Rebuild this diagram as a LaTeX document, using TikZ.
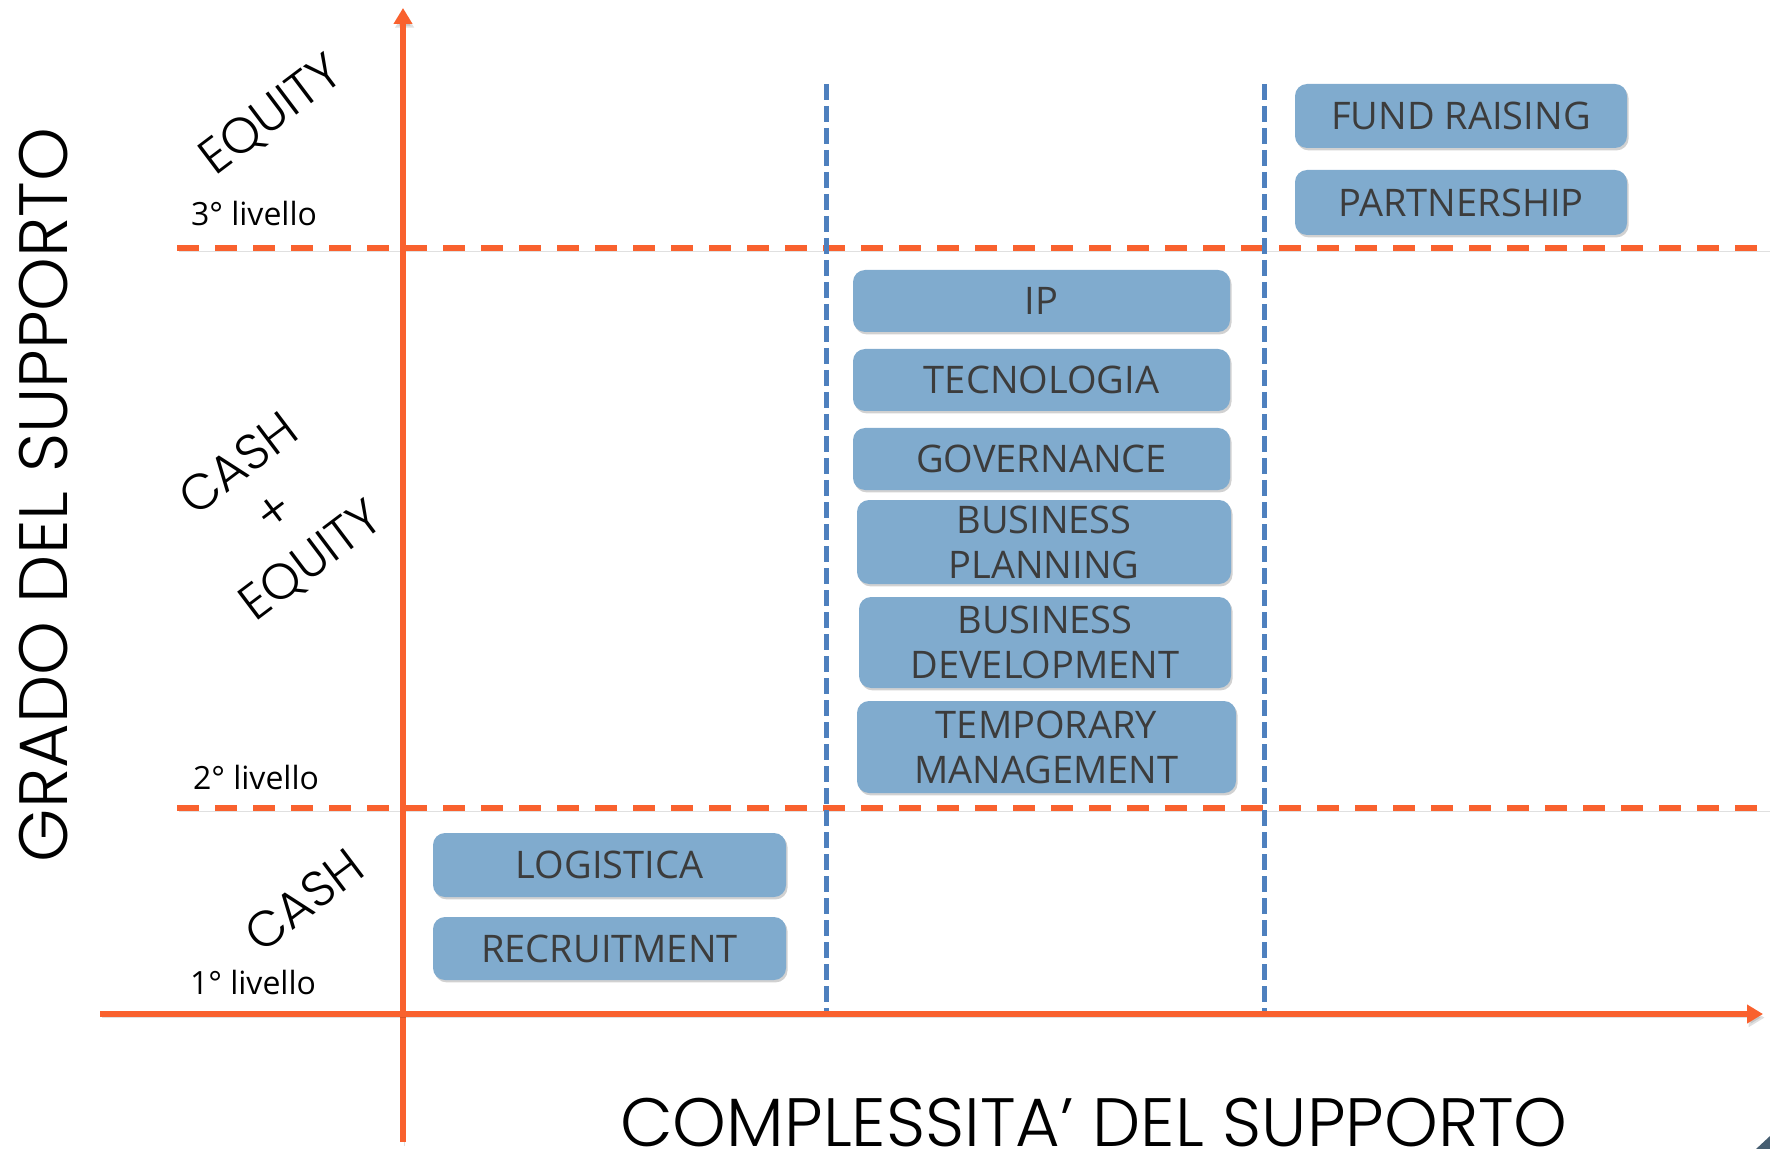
\documentclass[tikz,border=0pt]{standalone}
\usepackage{fontspec}
\setmainfont{Open Sans}
\newfontfamily\labelfont{Poppins Light}
\usetikzlibrary{arrows.meta,shadows}
\definecolor{axisorange}{HTML}{F9612E}
\definecolor{dashblue}{HTML}{4E80BE}
\definecolor{boxblue}{HTML}{80ABCE}
\definecolor{boxtext}{HTML}{3C3C3C}
\begin{document}
\begin{tikzpicture}[x=0.5pt,y=-0.5pt,
  box/.style={fill=boxblue, rounded corners=6pt, text=boxtext, align=center, inner sep=0pt,
    font=\fontsize{19}{22.5}\selectfont,
    drop shadow={shadow xshift=0.8pt, shadow yshift=-1.2pt, opacity=0.18, fill=black}},
  lineshadow/.style={preaction={draw=black, opacity=0.12, transform canvas={shift={(0.8pt,-1.8pt)}}}},
  axisline/.style={draw=axisorange, line width=2.8pt, lineshadow},
  leveldash/.style={draw=axisorange, line width=2.6pt, dash pattern=on 11pt off 8pt, lineshadow},
  coldash/.style={draw=dashblue, line width=2.5pt, dash pattern=on 8pt off 3pt},
  level/.style={font=\fontsize{16}{19}\selectfont, text=black, inner sep=0pt},
  rotlabel/.style={font=\labelfont\fontsize{25}{30}\selectfont, text=black, rotate=37, align=center, inner sep=0pt},
  axislabel/.style={font=\labelfont\fontsize{34.2}{40}\selectfont, text=black, inner sep=0pt}]
\useasboundingbox (0,0) rectangle (1770,1149);

% coordinates
\coordinate (ybot) at (403,1142);
\coordinate (ytop) at (403,8);
\coordinate (xl) at (100,1014);
\coordinate (xr) at (1763,1014);
\coordinate (d3l) at (177,248);
\coordinate (d3r) at (1770,248);
\coordinate (d2l) at (177,808);
\coordinate (d2r) at (1770,808);
\coordinate (c1t) at (826,84);
\coordinate (c1b) at (826,1014);
\coordinate (c2t) at (1264,84);
\coordinate (c2b) at (1264,1014);

% dashed lines
\draw[leveldash] (d3l) -- (d3r);
\draw[leveldash] (d2l) -- (d2r);
\draw[coldash] (c1t) -- (c1b);
\draw[coldash] (c2t) -- (c2b);

% axes
\draw[axisline, -{Triangle[length=8pt,width=9pt]}] (ybot) -- (ytop);
\draw[axisline, -{Triangle[length=8pt,width=9pt]}] (xl) -- (xr);

% boxes
\node[box, minimum width=166pt, minimum height=32pt] (fund) at (1461,116) {FUND RAISING};
\node[box, minimum width=166pt, minimum height=32.5pt] (part) at (1461,202.5) {PARTNERSHIP};
\node[box, minimum width=188.5pt, minimum height=31pt] (ip) at (1041.5,301) {IP};
\node[box, minimum width=188.5pt, minimum height=31pt] (tec) at (1041.5,380) {TECNOLOGIA};
\node[box, minimum width=188.5pt, minimum height=31pt] (gov) at (1041.5,459) {GOVERNANCE};
\node[box, minimum width=187pt, minimum height=42pt] (bp) at (1044,542) {BUSINESS\\PLANNING};
\node[box, minimum width=186pt, minimum height=45.5pt] (bd) at (1045,642.5) {BUSINESS\\DEVELOPMENT};
\node[box, minimum width=189.5pt, minimum height=46pt] (tm) at (1046.5,747) {TEMPORARY\\MANAGEMENT};
\node[box, minimum width=176.5pt, minimum height=32pt] (log) at (609.5,865) {LOGISTICA};
\node[box, minimum width=176.5pt, minimum height=31.5pt] (rec) at (609.5,948.5) {RECRUITMENT};

% level labels
\node[level] (l3) at (254,214) {3° livello};
\node[level] (l2) at (256,777) {2° livello};
\node[level] (l1) at (253,982) {1° livello};

% rotated labels
\node[rotlabel] (eq) at (272,116) {EQUITY};
\node[rotlabel] (ce) at (276,514) {CASH\\+\\EQUITY};
\node[rotlabel] (ca) at (304,900) {CASH};

% axis labels
\node[axislabel, rotate=90] (ylab) at (44,495) {GRADO DEL SUPPORTO};
\node[axislabel] (xlab) at (1094,1123) {COMPLESSITA’ DEL SUPPORTO};

% corner mark
\fill[fill=black!45!boxblue] (1770,1136) -- (1770,1149) -- (1756,1149) -- cycle;
\end{tikzpicture}
\end{document}
